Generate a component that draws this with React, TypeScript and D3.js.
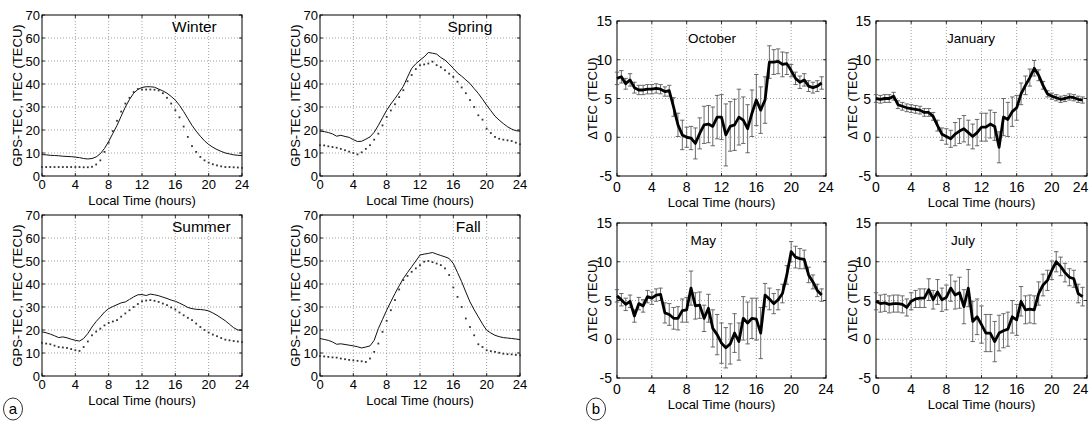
import React from "react";
import * as d3 from "d3";

// ---------- DATA ----------
const halfHours49 = d3.range(0, 24.01, 0.5);
const halfHours48 = d3.range(0, 23.51, 0.5);

const winterGps = [9.3,9.2,9.0,8.9,8.8,8.6,8.5,8.4,8.2,8.0,7.6,7.4,7.6,8.3,9.7,12,15,18.5,22,26,30,33.3,36,37.6,38.5,38.8,38.8,38.6,37.8,37,36,34.6,33,30.7,28,25,22,19.5,17.3,15.3,13.7,12.5,11.5,10.7,10,9.6,9.2,9.0,8.9];
const winterItec = [3.9,3.9,3.9,3.9,3.9,3.9,3.9,3.9,3.9,3.9,3.8,3.8,4.0,5.0,6.8,10.5,14.5,19.5,24,28,31.5,34,36.5,37.8,37.6,37.6,37.6,37.5,37.2,36,34,31.5,28.6,25.5,21.5,17,13,10.5,8.3,6.8,5.8,5.1,4.6,4.2,3.9,3.9,3.8,3.7,3.5];
const springGps = [19.5,19.3,18.9,18.3,17.3,17.7,17.2,16.8,15.8,15,15.1,16,17,19,22,25.3,28.6,31.3,33.7,36.3,39,43,46.8,48.8,50.4,51.8,53.7,53.4,53,51.5,50.4,48.7,46.8,44.8,43.4,41.8,40.2,38,35.9,33.4,30.8,28.4,26,24.3,22.8,21.4,20.4,19.7,19.5];
const springItec = [13.4,13.3,12.9,12.6,12.3,11.8,11.2,10.6,10,9.4,10.3,11.8,13.4,15.8,18.4,22,25.7,28.5,31.2,34.3,37.3,41.2,43.9,46.5,48.2,48.5,48.9,49.7,48.2,47.3,46,44.5,43.1,41,38.5,36,33,30,26.4,24.5,20.6,18.7,17,16.2,15.8,15.5,15.2,14.5,13.8];
const summerGps = [19.2,18.8,18.2,17.5,16.7,17,16.6,16,15.5,15.2,16.3,18.5,21.3,23.7,25.7,27.8,29.3,30.2,31,31.8,32.2,33.3,34.4,35.3,35.4,35,35.6,35.3,34.9,34.3,33.7,33,32.5,31.7,30.8,29.8,29.3,29,28.9,28.7,28.3,27.4,26.4,25.2,24,22.5,21,20,19.9];
const summerItec = [14.4,14.1,13.8,13.2,12.6,12.4,12.2,11.7,11.2,10.9,12.6,15,17.7,19.3,20.6,22,23.1,23.7,24.3,25.8,27.2,28.6,30,31.3,32.5,32.8,33,32.7,32.2,31.5,30.8,29.8,28.9,27.6,26.4,25.3,24.3,22.8,21.3,20,18.9,18,17.3,16.5,15.8,15.5,15.2,15,14.8];
const fallGps = [16.3,15.9,15.5,14.8,13.8,14,13.7,13.4,13.1,12.7,12.2,12.6,13.1,15.5,20.6,24.6,28.6,32.3,35.9,39.2,42.4,45,47.5,50,52.6,53,53.3,53.7,53,52.4,51.8,51.1,48.9,45,41,36.5,32.2,28.8,25.7,22.6,19.9,18.7,17.7,17.1,16.7,16.5,16.3,16.1,15.8];
const fallItec = [8.7,8.5,8.3,8.1,8,7.6,7.3,7.0,6.8,6.6,6.4,6.1,7.6,10.5,14.1,19.2,24,28.6,33,37.6,41.7,43.5,45.3,46.8,48.2,49.7,50,49.5,48.9,48.2,46.8,43.9,38.5,34.4,30,25,21.3,17.7,13.8,12.6,11.2,10.8,10.5,10.1,9.7,9.5,9.4,9.2,9];

const octMean = [7.6,7.8,6.9,7.4,6.4,6.1,6.1,6.2,6.2,6.3,6.2,5.9,6.0,3.9,1.6,0.3,0,-0.1,-0.8,0.5,1.6,1.7,1.4,2.6,2.6,0.3,1.4,1.6,2.6,2.2,1.1,3.1,4.8,3.5,4.8,9.7,9.7,9.8,9.4,9.5,8.6,7.6,7.1,7.4,6.6,6.4,6.6,7.0];
const octErr = [0.8,0.8,0.7,0.8,0.7,0.6,0.6,0.6,0.6,0.6,0.6,0.6,0.7,1.2,1.5,1.9,1.3,1.5,2.0,2.0,2.4,2.4,2.5,2.8,2.9,4.0,3.2,3.3,3.6,3.0,3.1,3.0,3.3,3.0,3.0,2.1,1.6,1.6,1.6,1.4,0.8,0.8,0.8,0.8,0.7,0.7,0.7,0.8];
const janMean = [5.0,4.9,5.0,5.0,5.3,4.2,4.0,3.8,3.7,3.6,3.5,3.2,3.2,2.7,1.5,0.4,0.1,-0.2,0.4,0.8,1.1,0.6,0.1,0.6,1.3,1.3,1.7,1.4,-1.3,2.6,2.3,3.3,3.8,5.6,6.7,7.7,8.9,8.0,6.7,5.6,5.3,5.1,4.9,5.0,5.2,5.1,4.9,4.8];
const janErr = [0.5,0.5,0.5,0.5,0.5,0.5,0.5,0.5,0.5,0.5,0.5,0.5,0.5,0.5,0.7,0.8,1.0,1.1,1.5,1.6,1.7,1.6,1.6,1.7,1.8,1.8,1.8,1.8,2.0,2.4,2.2,1.9,1.6,1.4,1.2,1.1,1.0,0.7,0.5,0.4,0.4,0.4,0.4,0.4,0.4,0.4,0.4,0.4];
const mayMean = [5.6,5.1,4.5,4.9,3.0,4.6,4.3,5.5,5.3,5.7,5.8,3.4,3.2,2.7,2.7,3.7,3.8,6.6,4.3,4.4,2.7,4.0,1.4,0.6,-0.5,-1.1,-0.6,0.8,-0.3,2.7,2.1,2.7,2.6,0.8,5.7,5.2,4.6,5.1,5.9,8.3,11.3,10.6,10.4,10.3,8.3,7.4,6.3,5.7];
const mayErr = [0.8,0.8,0.8,0.8,0.8,0.8,0.8,0.8,0.8,0.8,0.8,1.3,1.4,1.4,1.5,1.5,1.6,2.2,1.7,1.7,1.7,1.8,2.4,2.6,2.6,2.6,2.6,2.5,2.4,2.8,2.7,2.6,2.7,3.3,1.5,1.4,1.3,1.3,1.2,1.2,1.3,1.4,1.3,1.2,1.0,0.9,0.8,0.8];
const julMean = [4.9,4.6,4.7,4.5,4.6,4.6,4.5,4.1,4.9,5.2,5.3,5.3,6.4,5.1,6.1,5.1,5.4,6.6,5.7,6.0,4.2,6.6,2.3,2.9,1.9,0.8,0.8,-0.3,0.8,1.1,1.3,2.9,2.5,4.9,3.8,3.9,3.8,5.9,7.0,7.6,8.9,10.0,9.4,8.6,8.0,7.8,5.9,5.5];
const julErr = [1.1,1.1,1.1,1.1,1.1,1.1,1.1,1.1,1.1,1.1,1.2,1.2,1.4,1.2,1.6,1.5,1.6,1.7,1.8,2.0,2.2,2.4,2.6,2.3,2.4,2.4,2.4,2.6,2.3,2.2,2.2,2.1,2.0,1.9,1.8,1.8,1.8,1.5,1.4,1.3,1.2,1.3,1.2,1.2,1.1,1.1,1.2,1.2];

const hourTicks = [0, 4, 8, 12, 16, 20, 24];
const tecTicks = [0, 10, 20, 30, 40, 50, 60, 70];
const dtecTicks = [-5, 0, 5, 10, 15];

const FONT = "'Liberation Sans', Arial, Helvetica, sans-serif";
const PAGE_W = 1090;

type Box = { x: number; y: number; w: number; h: number };

function Frame({ box, xs, ys, xTicks, yTicks, tickGap, labelGap, ylabelX, ylabel, yLabelGap, tickFont }: any) {
  const { x, y, w, h } = box;
  return (
    <g>
      {xTicks.slice(1, -1).map((t: number) => (
        <line key={"gx" + t} x1={xs(t)} x2={xs(t)} y1={y} y2={y + h} stroke="#8a8a8a" strokeWidth={0.8} strokeDasharray="1,2" />
      ))}
      {yTicks.slice(1, -1).map((t: number) => (
        <line key={"gy" + t} x1={x} x2={x + w} y1={ys(t)} y2={ys(t)} stroke="#8a8a8a" strokeWidth={0.8} strokeDasharray="1,2" />
      ))}
      {xTicks.map((t: number) => (
        <g key={"tx" + t}>
          <line x1={xs(t)} x2={xs(t)} y1={y + h} y2={y + h - 3} stroke="#000" strokeWidth={0.8} />
          <line x1={xs(t)} x2={xs(t)} y1={y} y2={y + 3} stroke="#000" strokeWidth={0.8} />
          <text x={Math.min(xs(t), PAGE_W - tickFont * 0.6 - 1)} y={y + h + tickGap} textAnchor="middle" fontSize={tickFont} fontFamily={FONT}>{t}</text>
        </g>
      ))}
      {yTicks.map((t: number) => (
        <g key={"ty" + t}>
          <line x1={x} x2={x + 3} y1={ys(t)} y2={ys(t)} stroke="#000" strokeWidth={0.8} />
          <line x1={x + w} x2={x + w - 3} y1={ys(t)} y2={ys(t)} stroke="#000" strokeWidth={0.8} />
          <text x={x - yLabelGap} y={ys(t) + tickFont * 0.36} textAnchor="end" fontSize={tickFont} fontFamily={FONT}>{t}</text>
        </g>
      ))}
      <rect x={x} y={y} width={w} height={h} fill="none" stroke="#000" strokeWidth={1} />
      <text x={x + w / 2} y={y + h + labelGap} textAnchor="middle" fontSize={13} fontFamily={FONT}>Local Time (hours)</text>
      <text transform={`translate(${ylabelX},${y + h / 2}) rotate(-90)`} textAnchor="middle" fontSize={13} fontFamily={FONT}>{ylabel}</text>
    </g>
  );
}

function SeasonPanel({ box, title, titleX, gps, itec, ylabelX }: any) {
  const xs = d3.scaleLinear().domain([0, 24]).range([box.x, box.x + box.w]);
  const ys = d3.scaleLinear().domain([0, 70]).range([box.y + box.h, box.y]);
  const line = d3.line<number>().x((_, i) => xs(halfHours49[i])).y((d) => ys(d));
  return (
    <g>
      <Frame box={box} xs={xs} ys={ys} xTicks={hourTicks} yTicks={tecTicks} tickGap={13} labelGap={29} ylabelX={ylabelX} ylabel="GPS-TEC, ITEC (TECU)" yLabelGap={2} tickFont={13} />
      <path d={line(gps) || ""} fill="none" stroke="#111" strokeWidth={1} />
      {itec.map((v: number, i: number) => (
        <rect key={i} x={xs(halfHours49[i]) - 0.9} y={ys(v) - 0.9} width={1.8} height={1.8} fill="#333" />
      ))}
      <text x={xs(titleX)} y={ys(62.5)} fontSize={15.5} fontFamily={FONT}>{title}</text>
    </g>
  );
}

function DeltaPanel({ box, title, titleX, mean, err, ylabelX }: any) {
  const xs = d3.scaleLinear().domain([0, 24]).range([box.x, box.x + box.w]);
  const ys = d3.scaleLinear().domain([-5, 15]).range([box.y + box.h, box.y]);
  const line = d3.line<number>().x((_, i) => xs(halfHours48[i])).y((d) => ys(d));
  return (
    <g>
      <Frame box={box} xs={xs} ys={ys} xTicks={hourTicks} yTicks={dtecTicks} tickGap={16} labelGap={31} ylabelX={ylabelX} ylabel="ΔTEC (TECU)" yLabelGap={5} tickFont={14} />
      {mean.map((m: number, i: number) => {
        const cx = xs(halfHours48[i]);
        const y1 = ys(m + err[i]);
        const y2 = ys(m - err[i]);
        return (
          <g key={i} stroke="#5a5a5a" strokeWidth={0.9}>
            <line x1={cx} x2={cx} y1={y1} y2={y2} />
            <line x1={cx - 2.2} x2={cx + 2.2} y1={y1} y2={y1} />
            <line x1={cx - 2.2} x2={cx + 2.2} y1={y2} y2={y2} />
          </g>
        );
      })}
      <path d={line(mean) || ""} fill="none" stroke="#000" strokeWidth={2.8} strokeLinejoin="round" />
      <text x={xs(titleX)} y={box.y + 22} textAnchor="middle" fontSize={13.5} fontFamily={FONT}>{title}</text>
    </g>
  );
}

export default function App() {
  const L = (x: number, y: number): Box => ({ x, y, w: 200, h: 161 });
  return (
    <svg width={1090} height={423} style={{ position: "absolute", left: 0, top: 0, background: "#fff" }}>
      <rect x={0} y={0} width={1090} height={423} fill="#fff" />
      <SeasonPanel box={L(42, 15)} title="Winter" titleX={15.6} gps={winterGps} itec={winterItec} ylabelX={22} />
      <SeasonPanel box={L(320, 15)} title="Spring" titleX={15.3} gps={springGps} itec={springItec} ylabelX={300} />
      <SeasonPanel box={L(42, 215)} title="Summer" titleX={15.6} gps={summerGps} itec={summerItec} ylabelX={22} />
      <SeasonPanel box={L(320, 215)} title="Fall" titleX={16.3} gps={fallGps} itec={fallItec} ylabelX={300} />

      <DeltaPanel box={{ x: 617, y: 21, w: 209, h: 155 }} title="October" titleX={10.9} mean={octMean} err={octErr} ylabelX={597} />
      <DeltaPanel box={{ x: 876, y: 21, w: 211, h: 155 }} title="January" titleX={10.8} mean={janMean} err={janErr} ylabelX={857} />
      <DeltaPanel box={{ x: 617, y: 223, w: 209, h: 155 }} title="May" titleX={9.9} mean={mayMean} err={mayErr} ylabelX={597} />
      <DeltaPanel box={{ x: 876, y: 223, w: 211, h: 155 }} title="July" titleX={9.9} mean={julMean} err={julErr} ylabelX={857} />

      <ellipse cx={13} cy={409} rx={9.5} ry={11} fill="none" stroke="#000" strokeWidth={0.8} />
      <text x={13} y={414} textAnchor="middle" fontSize={15} fontFamily={FONT}>a</text>
      <ellipse cx={596} cy={409} rx={9.5} ry={11} fill="none" stroke="#000" strokeWidth={0.8} />
      <text x={596} y={414} textAnchor="middle" fontSize={15} fontFamily={FONT}>b</text>
    </svg>
  );
}
